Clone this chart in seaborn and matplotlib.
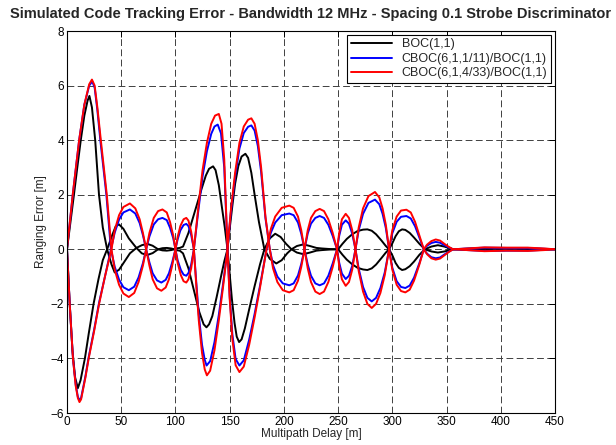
import matplotlib
matplotlib.use("Agg")
import matplotlib.pyplot as plt
import numpy as np
import pandas as pd
import seaborn as sns

# ---------------- data ----------------
labels = ["BOC(1,1)", "CBOC(6,1,1/11)/BOC(1,1)", "CBOC(6,1,4/33)/BOC(1,1)"]
colors = ["#000000", "#0000FF", "#FF0000"]
x_ticks = [0, 50, 100, 150, 200, 250, 300, 350, 400, 450]
y_ticks = [-6, -4, -2, 0, 2, 4, 6, 8]

# BOC(1,1) - branch A
boc_a_x = [0, 3.2, 6.4, 9.5, 12.7, 16, 19, 20.7, 23, 26, 29.5, 33, 37, 41, 44, 48, 53, 58, 64, 69, 74,
           79, 84, 88, 92, 96, 99, 102, 104, 107, 112, 118, 124, 128, 131, 134.7, 137, 140, 143, 145.5,
           148, 150, 152, 154.5, 156.5, 158.7, 161, 164, 168, 173, 178, 182, 187, 192, 197, 202, 207,
           212, 218, 224, 230, 235, 242, 250, 254, 258, 263, 268, 273, 277, 281, 285, 290, 294, 297,
           300, 303, 306, 309, 312, 316, 320, 325, 330, 336, 342, 348, 356, 370, 390, 420, 450]
boc_a_y = [0, 1.0, 2.0, 3.0, 4.0, 4.9, 5.45, 5.62, 5.2, 4.0, 2.0, 0.8, 0, -0.55, -0.85, -0.75, -0.45,
           -0.15, 0.05, 0.15, 0.2, 0.13, 0.0, -0.04, -0.05, -0.03, 0.0, 0.04, 0.05, 0.1, 0.6, 1.4, 2.2,
           2.7, 2.95, 3.04, 2.9, 2.35, 1.5, 0.8, 0, -0.9, -1.8, -2.7, -3.2, -3.4, -3.3, -2.9, -2.2,
           -1.35, -0.55, 0, 0.4, 0.57, 0.45, 0.2, 0, -0.12, -0.18, -0.12, -0.05, -0.03, -0.01, 0, 0.2,
           0.38, 0.55, 0.67, 0.72, 0.73, 0.68, 0.55, 0.32, 0.12, 0, -0.22, -0.5, -0.68, -0.76, -0.73,
           -0.62, -0.45, -0.2, 0, 0.1, 0.15, 0.1, 0, 0.02, 0.04, 0.03, 0]
# BOC(1,1) - branch B
boc_b_x = [0, 2.5, 5, 7.5, 10, 12.5, 16.5, 20, 24.5, 29, 33, 37, 42, 45, 48, 52, 57, 64, 69, 74, 79,
           84, 88, 92, 96, 99, 102, 104, 107, 112, 117, 122, 126, 128.6, 131, 134, 138, 142, 145, 148,
           150, 152.5, 155, 158, 161, 164.5, 167, 170, 173, 177, 182, 187, 193, 198, 203, 207, 212,
           218, 224, 230, 235, 242, 250, 254, 258, 263, 268, 273, 277, 281, 285, 290, 294, 297, 300,
           303, 306, 309, 312, 316, 320, 325, 330, 336, 342, 348, 356, 370, 390, 420, 450]
boc_b_y = [0, -2.0, -3.7, -4.7, -5.09, -4.8, -4.0, -3.1, -2.0, -1.1, -0.4, 0, 0.55, 0.85, 0.91, 0.75,
           0.4, 0.05, -0.15, -0.21, -0.14, 0.0, 0.04, 0.05, 0.03, 0, -0.04, -0.05, -0.15, -0.7, -1.5,
           -2.3, -2.75, -2.86, -2.75, -2.45, -1.75, -1.0, -0.45, 0, 0.75, 1.6, 2.4, 3.05, 3.4, 3.5,
           3.35, 2.8, 2.0, 1.0, 0, -0.35, -0.52, -0.4, -0.15, 0, 0.12, 0.18, 0.12, 0.05, 0.03, 0.01,
           0, -0.2, -0.38, -0.55, -0.68, -0.74, -0.76, -0.7, -0.56, -0.32, -0.12, 0, 0.22, 0.48, 0.66,
           0.73, 0.71, 0.6, 0.43, 0.2, 0, -0.08, -0.12, -0.08, 0, -0.02, -0.03, -0.03, 0]

# CBOC(6,1,1/11) - branch A
cb11_a_x = [0, 5.3, 11.2, 16, 20.5, 23.3, 25.5, 28, 31, 36.3, 40.5, 44, 48, 52, 57, 62, 66, 70, 73,
            76, 80, 84, 88, 92, 95, 98, 100, 102, 105, 107.5, 110, 112, 114.5, 117, 121, 125, 129,
            133, 136, 139, 142, 145, 148, 150, 152.5, 155.5, 159, 163, 168, 173, 178, 184, 188, 192,
            198, 205, 209, 213, 216, 219, 222, 225, 229, 233, 237, 241, 245, 249, 251, 253.5, 257,
            260, 263, 266, 269, 273, 277, 281, 285, 289, 293, 297, 300, 304, 308, 313, 317, 321, 325,
            329, 332, 336, 340, 344, 348, 352, 356, 365, 385, 405, 425, 440, 450]
cb11_a_y = [0, 2.0, 4.0, 5.3, 6.0, 6.15, 5.92, 5.1, 3.9, 2.0, 0, -0.64, -1.11, -1.39, -1.5, -1.37,
            -1.03, -0.51, 0, 0.47, 0.91, 1.1, 1.15, 1.07, 0.79, 0.4, 0, -0.4, -0.76, -0.93, -0.97,
            -0.87, -0.56, 0, 1.38, 2.67, 3.59, 4.23, 4.5, 4.57, 4.25, 3.0, 0, -1.7, -3.12, -4.02,
            -4.26, -4.07, -3.31, -2.37, -1.33, 0, 0.61, 0.98, 1.25, 1.31, 1.25, 0.98, 0.57, 0, -0.56,
            -0.97, -1.25, -1.32, -1.25, -0.97, -0.52, 0, 0.49, 0.9, 1.06, 0.94, 0.57, 0, -0.71, -1.38,
            -1.78, -1.91, -1.78, -1.42, -0.85, 0, 0.59, 1.01, 1.19, 1.22, 1.13, 0.84, 0.42, 0, -0.16,
            -0.29, -0.33, -0.3, -0.19, -0.09, 0, 0.02, 0.06, 0.05, 0.05, 0.02, 0]
# CBOC(6,1,1/11) - branch B
cb11_b_x = [0, 2.5, 5.5, 8, 10, 11.5, 13, 15, 17, 20, 25, 29.6, 35, 40.5, 44, 48, 52, 58, 63, 67, 70,
            73, 76, 79, 83, 87, 91, 94, 97, 100, 102, 104.5, 107.5, 110, 112, 114.5, 117, 119, 121.5,
            124.5, 127, 128.7, 132, 136, 140, 144, 148, 151, 155, 159, 163, 167, 170, 173, 176, 179,
            183, 187, 190, 194, 199, 205, 209, 213, 216, 219, 222, 225, 229, 233, 237, 241, 245, 249,
            251, 253.5, 257, 260, 263, 266, 269, 273, 278, 284, 288, 291, 294, 297, 300, 304, 308, 312,
            316, 320, 325, 329, 332, 336, 340, 344, 348, 352, 356, 365, 385, 405, 425, 440, 450]
cb11_b_y = [0, -2.0, -4.0, -4.95, -5.4, -5.54, -5.45, -5.05, -4.65, -3.95, -2.95, -1.95, -1.0, 0,
            0.61, 1.09, 1.35, 1.46, 1.31, 0.96, 0.52, 0, -0.48, -0.88, -1.14, -1.22, -1.12, -0.88,
            -0.48, 0, 0.36, 0.69, 0.89, 0.93, 0.85, 0.53, 0, -1.1, -2.4, -3.5, -4.05, -4.26, -4.1,
            -3.4, -2.4, -1.24, 0, 1.32, 2.65, 3.69, 4.26, 4.49, 4.54, 4.35, 3.78, 2.84, 1.14, 0, -0.58,
            -1.0, -1.25, -1.32, -1.25, -0.96, -0.54, 0, 0.58, 0.94, 1.15, 1.22, 1.15, 0.9, 0.49, 0,
            -0.49, -0.89, -1.09, -0.97, -0.61, 0, 0.7, 1.3, 1.7, 1.82, 1.65, 1.3, 0.78, 0, -0.68,
            -1.17, -1.38, -1.42, -1.33, -1.04, -0.5, 0, 0.13, 0.23, 0.27, 0.24, 0.15, 0.07, 0, -0.02,
            -0.06, -0.05, -0.05, -0.02, 0]

# CBOC(6,1,4/33) - branch A
cb433_a_x = [0, 5.3, 11.2, 16, 20.5, 23, 25.5, 28, 31.2, 36.7, 41, 44, 48, 52, 57, 62, 66, 70, 73,
             76, 80, 84, 88, 92, 95, 98, 100, 102, 105, 107.5, 110, 112, 114.5, 117, 121, 125, 129,
             133, 136.5, 140, 142.5, 145, 148, 150, 152.5, 155.5, 159, 163, 168, 173, 178, 184, 188,
             192, 198, 205, 209, 213, 216, 219, 222, 225, 229, 233, 237, 241, 245, 249, 251, 253.5,
             257, 260, 263, 266, 269, 273, 277, 281, 285, 289, 293, 297, 300, 304, 308, 313, 317, 321,
             325, 329, 332, 336, 340, 344, 348, 352, 356, 365, 385, 405, 425, 440, 450]
cb433_a_y = [0, 2.0, 4.0, 5.3, 6.05, 6.22, 6.0, 5.2, 4.0, 2.0, 0, -0.75, -1.3, -1.62, -1.75, -1.6,
             -1.2, -0.6, 0, 0.6, 1.15, 1.4, 1.46, 1.35, 1.0, 0.5, 0, -0.5, -0.95, -1.17, -1.22, -1.1,
             -0.7, 0, 1.5, 2.9, 3.9, 4.6, 4.9, 4.96, 4.6, 3.3, 0, -1.8, -3.3, -4.25, -4.5, -4.3, -3.5,
             -2.5, -1.4, 0, 0.75, 1.2, 1.52, 1.6, 1.52, 1.2, 0.7, 0, -0.7, -1.2, -1.55, -1.64, -1.55,
             -1.2, -0.65, 0, 0.6, 1.1, 1.3, 1.15, 0.7, 0, -0.8, -1.55, -2.0, -2.15, -2.0, -1.6, -0.95,
             0, 0.7, 1.2, 1.42, 1.45, 1.35, 1.0, 0.5, 0, -0.18, -0.33, -0.38, -0.34, -0.22, -0.1, 0,
             0.02, 0.07, 0.06, 0.06, 0.03, 0]
# CBOC(6,1,4/33) - branch B
cb433_b_x = [0, 2.5, 5.5, 8, 10, 11.5, 13, 15, 17, 20, 25, 29.6, 35, 41, 44, 48, 52, 58, 63, 67, 70,
             73, 76, 79, 83, 87, 91, 94, 97, 100, 102, 104.5, 107.5, 110, 112, 114.5, 117, 119, 121.5,
             124.5, 127, 129, 132, 136, 140, 144, 148, 151, 155, 159, 163, 167, 170, 173, 176, 179,
             183, 187, 190, 194, 199, 205, 209, 213, 216, 219, 222, 225, 229, 233, 237, 241, 245, 249,
             251, 253.5, 257, 260, 263, 266, 269, 273, 278, 284, 288, 291, 294, 297, 300, 304, 308,
             312, 316, 320, 325, 329, 332, 336, 340, 344, 348, 352, 356, 365, 385, 405, 425, 440, 450]
cb433_b_y = [0, -2.0, -4.0, -5.0, -5.45, -5.6, -5.5, -5.1, -4.7, -4.0, -3.0, -2.0, -1.0, 0, 0.7,
             1.25, 1.55, 1.68, 1.5, 1.1, 0.6, 0, -0.6, -1.1, -1.43, -1.52, -1.4, -1.1, -0.6, 0, 0.45,
             0.85, 1.1, 1.15, 1.05, 0.65, 0, -1.2, -2.6, -3.8, -4.4, -4.62, -4.45, -3.7, -2.6, -1.35,
             0, 1.4, 2.8, 3.9, 4.5, 4.75, 4.8, 4.6, 4.0, 3.0, 1.2, 0, -0.7, -1.2, -1.5, -1.58, -1.5,
             -1.15, -0.65, 0, 0.7, 1.15, 1.4, 1.48, 1.4, 1.1, 0.6, 0, -0.6, -1.1, -1.34, -1.2, -0.75,
             0, 0.8, 1.5, 1.95, 2.1, 1.9, 1.5, 0.9, 0, -0.75, -1.3, -1.53, -1.58, -1.48, -1.15, -0.55,
             0, 0.17, 0.3, 0.36, 0.32, 0.2, 0.09, 0, -0.02, -0.07, -0.05, -0.06, -0.03, 0]

curves = [
    (labels[0], "A", boc_a_x, boc_a_y),
    (labels[0], "B", boc_b_x, boc_b_y),
    (labels[1], "A", cb11_a_x, cb11_a_y),
    (labels[1], "B", cb11_b_x, cb11_b_y),
    (labels[2], "A", cb433_a_x, cb433_a_y),
    (labels[2], "B", cb433_b_x, cb433_b_y),
]

frames = []
for name, br, xs, ys in curves:
    frames.append(pd.DataFrame({"delay": xs, "err": ys, "signal": name, "branch": name + br}))
df = pd.concat(frames, ignore_index=True)

# ---------------- plot ----------------
sns.set_theme(style="white")
plt.rcParams["font.family"] = ["Liberation Sans", "DejaVu Sans"]

fig = plt.figure(figsize=(6.16, 4.45), dpi=100)
ax = fig.add_axes([67 / 616, 1 - 413 / 445, (555 - 67) / 616, (413 - 31) / 445])

sns.lineplot(data=df, x="delay", y="err", hue="signal", hue_order=labels,
             palette=dict(zip(labels, colors)), units="branch", estimator=None,
             linewidth=1.4, ax=ax)

ax.set_xlim(0, 450)
ax.set_ylim(-6, 8)
ax.set_xticks(x_ticks)
ax.set_yticks(y_ticks)
ax.tick_params(direction="in", top=True, right=True, length=4, width=0.7,
               labelsize=8.5, colors="black", pad=2)
ax.grid(True, color="0.25", linestyle=(0, (7, 3.5)), linewidth=0.7)
for s in ax.spines.values():
    s.set_color("black")
    s.set_linewidth(0.8)

ax.set_title("Simulated Code Tracking Error - Bandwidth 12 MHz - Spacing 0.1 Strobe Discriminator",
             fontsize=10.5, fontweight="bold", pad=9)
ax.set_xlabel("Multipath Delay [m]", fontsize=8.5, labelpad=0)
ax.set_ylabel("Ranging Error [m]", fontsize=8.5, labelpad=3)

handles, labs = ax.get_legend_handles_labels()
leg = ax.legend(handles, labs, loc="upper right", fontsize=9, frameon=True, fancybox=False,
                edgecolor="black", framealpha=1, borderaxespad=0.3, labelspacing=0.2,
                handlelength=3.3, borderpad=0.3)
leg.get_frame().set_linewidth(0.8)

fig.savefig("out.png", dpi=100)
